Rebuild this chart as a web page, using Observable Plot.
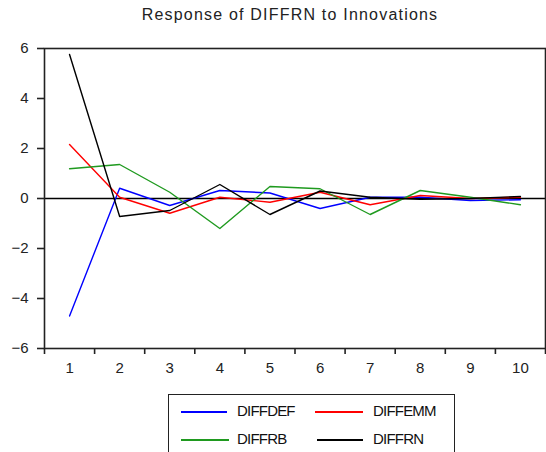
<!DOCTYPE html>
<html>
<head>
<meta charset="utf-8">
<script src="https://cdn.jsdelivr.net/npm/d3@7"></script>
<script src="https://cdn.jsdelivr.net/npm/@observablehq/plot@0.6"></script>
<style>
  body { margin: 0; background: #fff; font-family: "Liberation Sans", Arial, sans-serif; }
  #wrap { position: relative; width: 546px; height: 452px; overflow: hidden; }
  #title { position: absolute; left: 0; top: 6px; width: 580px; text-align: center; font-size: 16px; letter-spacing: 1.2px; color: #222; }
  #chart { position: absolute; left: 0; top: 40px; }
  #legend { position: absolute; left: 168px; top: 394px; width: 285px; height: 80px; border: 1.5px solid #222; }
  .sw { position: absolute; height: 0; border-top: 2px solid; }
  .lb { position: absolute; font-size: 15px; letter-spacing: -0.8px; color: #111; line-height: 16px; }
</style>
</head>
<body>
<div id="wrap">
  <div id="title">Response of DIFFRN to Innovations</div>
  <div id="chart"></div>
  <div id="legend"></div>
</div>
<script>
const periods = [1, 2, 3, 4, 5, 6, 7, 8, 9, 10];
const seriesNames = ["DIFFDEF", "DIFFEMM", "DIFFRB", "DIFFRN"];
const seriesColors = ["#0000ff", "#ff0000", "#1f9a1f", "#000000"];
const diffdef = [-4.7, 0.41, -0.28, 0.32, 0.22, -0.4, 0.05, 0.05, -0.08, -0.05];
const diffemm = [2.16, 0.05, -0.59, 0.05, -0.15, 0.25, -0.25, 0.12, 0.0, 0.05];
const diffrb  = [1.19, 1.36, 0.25, -1.2, 0.48, 0.39, -0.64, 0.32, 0.05, -0.25];
const diffrn  = [5.76, -0.72, -0.48, 0.56, -0.64, 0.3, 0.05, -0.03, 0.0, 0.08];
const yTicks = [-6, -4, -2, 0, 2, 4, 6];

const valuesBySeries = [diffdef, diffemm, diffrb, diffrn];
const data = [];
seriesNames.forEach((s, i) => periods.forEach((p, j) => data.push({series: s, period: p, value: valuesBySeries[i][j]})));
const bounds = [...periods.map(p => p - 0.5), periods[periods.length - 1] + 0.5];

const chart = Plot.plot({
  width: 546,
  height: 352,
  marginLeft: 44,
  marginRight: 1,
  marginTop: 8,
  marginBottom: 44,
  style: {fontFamily: "'Liberation Sans', Arial, sans-serif", fontSize: "15px", color: "#222", background: "white"},
  x: {domain: [0.5, 10.5], label: null},
  y: {domain: [-6, 6], label: null},
  color: {domain: seriesNames, range: seriesColors},
  marks: [
    Plot.ruleY([0], {stroke: "black", strokeWidth: 1.5}),
    Plot.lineY(data, {x: "period", y: "value", stroke: "series", strokeWidth: 1.4}),
    Plot.frame({stroke: "#222", strokeWidth: 1.6}),
    Plot.axisY({ticks: yTicks, tickSize: 7, tickPadding: 9, strokeWidth: 1.6, label: null}),
    Plot.axisX({ticks: bounds, tickSize: 6, strokeWidth: 1.6, tickFormat: () => "", label: null}),
    Plot.axisX({ticks: periods, tickSize: 0, tickPadding: 14, label: null})
  ]
});
document.getElementById("chart").appendChild(chart);

const legend = document.getElementById("legend");
const pos = [
  {lx: 12, lw: 46, ty: 16, tx: 68},
  {lx: 146, lw: 48, ty: 16, tx: 204},
  {lx: 12, lw: 48, ty: 44, tx: 68},
  {lx: 148, lw: 46, ty: 44, tx: 204}
];
seriesNames.forEach((s, i) => {
  const p = pos[i];
  const sw = document.createElement("div");
  sw.className = "sw";
  sw.style.left = p.lx + "px";
  sw.style.top = p.ty + "px";
  sw.style.width = p.lw + "px";
  sw.style.borderTopColor = seriesColors[i];
  legend.appendChild(sw);
  const lb = document.createElement("div");
  lb.className = "lb";
  lb.style.left = p.tx + "px";
  lb.style.top = (p.ty - 8) + "px";
  lb.textContent = s;
  legend.appendChild(lb);
});
</script>
</body>
</html>
